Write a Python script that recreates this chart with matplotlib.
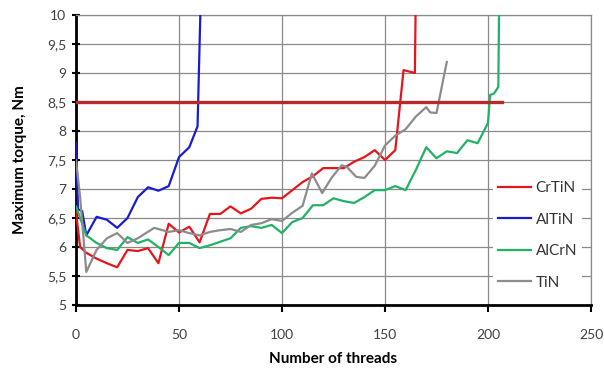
import numpy as np
import matplotlib
matplotlib.use("Agg")
import matplotlib.pyplot as plt

# -------------------------------
# data
# -------------------------------
crtin_x = [0, 2, 5, 10, 15, 20, 25, 30, 35, 40, 45, 50, 55, 60, 65, 70, 75, 80,
           85, 90, 95, 100, 105, 110, 115, 120, 125, 130, 135, 140, 145, 150,
           155, 159, 164.5, 165]
crtin_y = [6.6, 6.0, 5.9, 5.8, 5.72, 5.65, 5.95, 5.93, 5.98, 5.72, 6.4, 6.25,
           6.35, 6.08, 6.57, 6.57, 6.7, 6.58, 6.66, 6.83, 6.85, 6.84, 6.98, 7.12,
           7.22, 7.36, 7.36, 7.36, 7.47, 7.55, 7.67, 7.5, 7.67, 9.05, 9.0, 10.5]

altin_x = [0, 1, 3, 5, 10, 15, 20, 25, 30, 35, 40, 45, 50, 55, 59, 60.7]
altin_y = [7.8, 6.65, 6.62, 6.2, 6.52, 6.47, 6.33, 6.5, 6.86, 7.03, 6.97, 7.05,
           7.55, 7.72, 8.08, 10.5]

alcrn_x = [0, 5, 10, 15, 20, 25, 30, 35, 40, 45, 50, 55, 60, 65, 70, 75, 80,
           85, 90, 95, 100, 105, 110, 115, 120, 125, 130, 135, 140, 145, 150,
           155, 160, 165, 170, 175, 180, 185, 190, 195, 200, 201, 203, 205, 205.5]
alcrn_y = [6.7, 6.2, 6.07, 5.98, 5.95, 6.17, 6.07, 6.13, 6.0, 5.86, 6.07, 6.07,
           5.98, 6.03, 6.09, 6.15, 6.33, 6.36, 6.33, 6.38, 6.24, 6.43, 6.5, 6.72,
           6.72, 6.84, 6.79, 6.76, 6.86, 6.98, 6.98, 7.05, 6.98, 7.33, 7.72, 7.53,
           7.65, 7.62, 7.84, 7.79, 8.14, 8.62, 8.65, 8.76, 10.5]

tin_x = [0, 2, 5, 10, 15, 20, 25, 30, 38, 45, 50, 55, 60, 65, 70, 75, 80, 85,
         90, 95, 100, 105, 110, 114.5, 119.5, 124, 129, 131.5, 136, 140, 145,
         150, 155, 160, 165, 170, 172, 175, 180]
tin_y = [7.5, 6.86, 5.57, 5.95, 6.15, 6.24, 6.07, 6.15, 6.33, 6.26, 6.29, 6.24,
         6.2, 6.26, 6.29, 6.31, 6.26, 6.38, 6.41, 6.48, 6.45, 6.59, 6.71, 7.27,
         6.93, 7.19, 7.41, 7.38, 7.21, 7.19, 7.4, 7.75, 7.92, 8.03, 8.25, 8.41,
         8.32, 8.31, 9.19]

limit_x = [0, 207]
limit_y = [8.5, 8.5]

x_ticks = [0, 50, 100, 150, 200, 250]
y_ticks = [5, 5.5, 6, 6.5, 7, 7.5, 8, 8.5, 9, 9.5, 10]
y_tick_labels = ["5", "5,5", "6", "6,5", "7", "7,5", "8", "8,5", "9", "9,5", "10"]

# -------------------------------
# figure
# -------------------------------
plt.rcParams["font.family"] = ["Lato", "DejaVu Sans"]

fig = plt.figure(figsize=(6.04, 3.68), dpi=100)
ax = fig.add_axes([76 / 604, 63 / 368, 515 / 604, 290 / 368])

ax.plot(limit_x, limit_y, color="#b52a2a", linewidth=2.4, zorder=4)

ax.plot(crtin_x, crtin_y, color="#e4161c", linewidth=1.6, label="CrTiN", zorder=3)
ax.plot(altin_x, altin_y, color="#1c1ccf", linewidth=1.6, label="AlTiN", zorder=3)
ax.plot(alcrn_x, alcrn_y, color="#22b266", linewidth=1.6, label="AlCrN", zorder=3)
ax.plot(tin_x, tin_y, color="#8c8c8c", linewidth=1.6, label="TiN", zorder=3)

ax.set_xlim(0, 250)
ax.set_ylim(5, 10)
ax.set_xticks(x_ticks)
ax.set_yticks(y_ticks)
ax.set_yticklabels(y_tick_labels)

ax.grid(True, color="#8a8a8a", linewidth=0.9)
ax.set_axisbelow(True)

for side in ["top", "right"]:
    ax.spines[side].set_color("#8a8a8a")
    ax.spines[side].set_linewidth(0.9)
for side in ["left", "bottom"]:
    ax.spines[side].set_color("black")
    ax.spines[side].set_linewidth(2.0)

ax.tick_params(axis="y", direction="inout", length=6, width=1.5,
               labelsize=10, colors="black", labelcolor="#404040", pad=4)
ax.tick_params(axis="x", direction="out", length=5, width=1.5,
               labelsize=10, colors="black", labelcolor="#404040", pad=12)

ax.set_xlabel("Number of threads", fontsize=11, fontweight="bold", labelpad=8)
ax.set_ylabel("Maximum torque, Nm", fontsize=11, fontweight="bold", labelpad=14)

leg = ax.legend(loc="center right", bbox_to_anchor=(0.997, 0.24),
                frameon=True, facecolor="white", edgecolor="none",
                framealpha=1, fancybox=False, fontsize=11,
                handlelength=2.2, handletextpad=0.3, labelspacing=1.15,
                borderpad=0.3)
for t in leg.get_texts():
    t.set_color("#333333")

fig.savefig("out.png", dpi=100)
